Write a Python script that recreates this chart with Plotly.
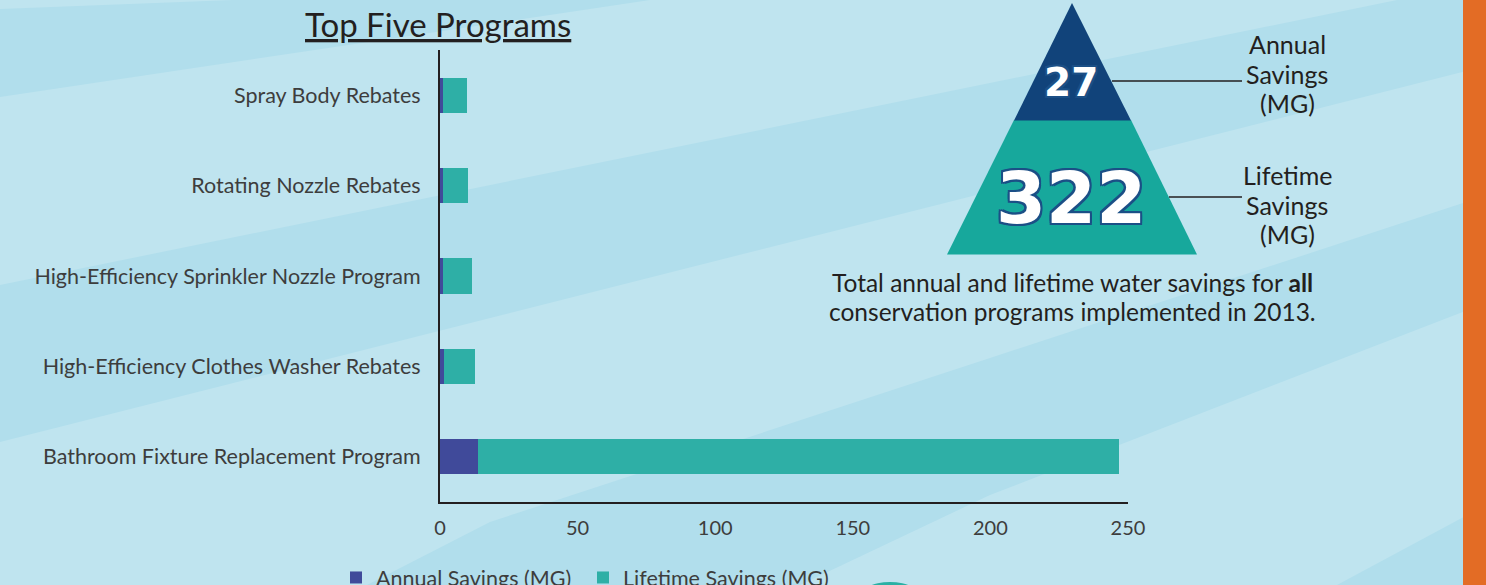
import plotly.graph_objects as go

# ---------------- data ----------------
programs = [
    "Spray Body Rebates",
    "Rotating Nozzle Rebates",
    "High-Efficiency Sprinkler Nozzle Program",
    "High-Efficiency Clothes Washer Rebates",
    "Bathroom Fixture Replacement Program",
]
annual_savings = [1.0, 1.0, 1.2, 1.45, 13.8]
lifetime_savings = [8.7, 9.3, 10.5, 11.2, 232.9]
x_ticks = [0, 50, 100, 150, 200, 250]

total_annual = "27"
total_lifetime = "322"

# ---------------- layout geometry ----------------
W, H = 1486, 585
L, R, T, B = 440, 1128, 50, 502  # plot area in pixels


def px(x, y):
    """pixel -> paper coordinates"""
    return (x - L) / (R - L), (B - y) / (B - T)


def path(points):
    s = ""
    for i, (x, y) in enumerate(points):
        xp, yp = px(x, y)
        s += ("M" if i == 0 else "L") + f"{xp:.5f},{yp:.5f}"
    return s + "Z"


DARK_BG = "#b1deec"
LIGHT_BG = "#bfe4ef"

fig = go.Figure()
fig.add_trace(go.Bar(
    y=programs, x=annual_savings, orientation="h",
    name="Annual Savings (MG)", marker=dict(color="#404a9a", line=dict(width=0)),
))
fig.add_trace(go.Bar(
    y=programs, x=lifetime_savings, orientation="h",
    name="Lifetime Savings (MG)", marker=dict(color="#2eafa6", line=dict(width=0)),
))

shapes = []
# background bands
bands = [
    [(0, 0), (233, 0), (0, 9)],
    [(0, 97), (650, 0), (1397, 0), (0, 285)],
    [(0, 442), (1486, 66), (1486, 196), (1463, 203), (990, 358), (490, 522), (367, 585), (0, 585)],
    [(800, 585), (990, 495), (1486, 303), (1486, 505), (1337, 585)],
]
for b in bands:
    shapes.append(dict(type="path", xref="paper", yref="paper", path=path(b),
                       fillcolor=LIGHT_BG, line=dict(width=0), layer="below"))
# orange side bar
shapes.append(dict(type="path", xref="paper", yref="paper",
                   path=path([(1463, 0), (1486, 0), (1486, 585), (1463, 585)]),
                   fillcolor="#e36c25", line=dict(width=0), layer="below"))
# small teal shape at bottom
x0, y0 = px(858, 582)
x1, y1 = px(922, 616)
shapes.append(dict(type="circle", xref="paper", yref="paper", x0=x0, y0=y0, x1=x1, y1=y1,
                   fillcolor="#2ab0a4", line=dict(width=0), layer="below"))
# pyramid
shapes.append(dict(type="path", xref="paper", yref="paper",
                   path=path([(1014, 120), (1131, 120), (1197, 254.5), (947, 254.5)]),
                   fillcolor="#17a89c", line=dict(width=0), layer="below"))
shapes.append(dict(type="path", xref="paper", yref="paper",
                   path=path([(1072, 3), (1131, 120.5), (1014, 120.5)]),
                   fillcolor="#11437a", line=dict(width=0), layer="below"))
# connector lines
for (xa, ya, xb, yb) in [(1112, 81, 1242, 81), (1169, 197, 1242, 197)]:
    a = px(xa, ya)
    b = px(xb, yb)
    shapes.append(dict(type="line", xref="paper", yref="paper", x0=a[0], y0=a[1], x1=b[0], y1=b[1],
                       line=dict(color="#231f20", width=1.5)))

outline = ("-2px -2px 0 #1b4f86, 2px -2px 0 #1b4f86, -2px 2px 0 #1b4f86, 2px 2px 0 #1b4f86, "
           "0 -2px 0 #1b4f86, 0 2px 0 #1b4f86, -2px 0 0 #1b4f86, 2px 0 0 #1b4f86")

annotations = []


def ann(text, x, y, size, color="#231f20", family="Lato", **kw):
    xp, yp = px(x, y)
    d = dict(text=text, x=xp, y=yp, xref="paper", yref="paper", showarrow=False,
             xanchor="center", yanchor="middle",
             font=dict(size=size, color=color, family=family))
    d.update(kw)
    annotations.append(d)


ann("<u>Top Five Programs</u>", 438, 24, 33)
ann(f"<b>{total_annual}</b>", 1071, 82, 39, color="white")
annotations[-1]["font"].update(family="DejaVu Sans", shadow=outline)
ann(f"<b>{total_lifetime}</b>", 1071, 198, 72, color="white")
annotations[-1]["font"].update(family="DejaVu Sans", shadow=outline)
for txt, yy in [("Annual", 44), ("Savings", 74), ("(MG)", 103),
                ("Lifetime", 175), ("Savings", 205), ("(MG)", 234)]:
    ann(txt, 1287, yy, 25)
ann("Total annual and lifetime water savings for <b>all</b>", 1072, 282, 24.5)
ann("conservation programs implemented in 2013.", 1072, 311, 24.5)

lx, ly = px(336, 557)

fig.update_layout(
    width=W, height=H,
    margin=dict(l=L, r=W - R, t=T, b=H - B, pad=0, autoexpand=False),
    paper_bgcolor=DARK_BG, plot_bgcolor="rgba(0,0,0,0)",
    barmode="stack", bargap=0.61,
    font=dict(family="Lato", color="#3d3d3d"),
    showlegend=True,
    legend=dict(orientation="h", x=lx, y=ly, xanchor="left", yanchor="top",
                font=dict(size=21.5, color="#3d3d3d"), bgcolor="rgba(0,0,0,0)",
                traceorder="normal", entrywidth=202),
    xaxis=dict(range=[0, 250], tickvals=x_ticks, showgrid=False, zeroline=False,
               showline=True, linecolor="#231f20", linewidth=2, ticks="",
               ticklabelstandoff=7, tickfont=dict(size=20, color="#3d3d3d")),
    yaxis=dict(autorange="reversed", showgrid=False, zeroline=False,
               showline=True, linecolor="#231f20", linewidth=2, ticks="",
               ticklabelstandoff=13, tickfont=dict(size=21.5, color="#3d3d3d")),
    shapes=shapes,
    annotations=annotations,
)

fig.write_html("out.html", config={"displayModeBar": False},
               post_script="document.body.style.margin='0';document.body.style.overflow='hidden';")
